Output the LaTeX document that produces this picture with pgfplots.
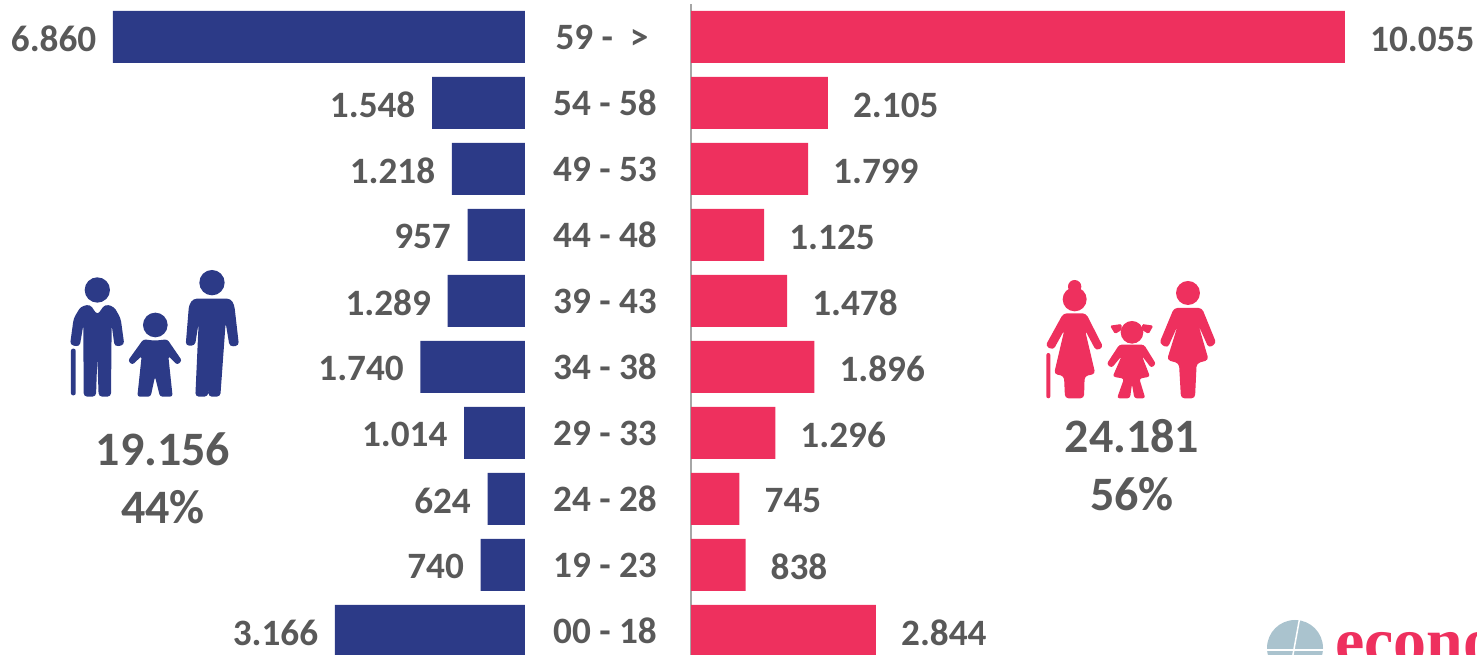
\documentclass[border=0pt]{standalone}
\usepackage{fontspec}
\setmainfont{Carlito}
\newfontfamily\logofont{Liberation Serif}
\usepackage{pgfplots}
\usepackage{pgfplotstable}
\pgfplotsset{compat=1.18}
\definecolor{navy}{HTML}{2C3A87}
\definecolor{rose}{HTML}{EE305E}
\definecolor{txt}{HTML}{595959}
\definecolor{globe}{HTML}{AAC3CE}
\pgfplotstableread{
y v l
9 6860 6.860
8 1548 1.548
7 1218 1.218
6 957 957
5 1289 1.289
4 1740 1.740
3 1014 1.014
2 624 624
1 740 740
0 3166 3.166
}\leftdata
\pgfplotstableread{
y v l
9 10055 10.055
8 2105 2.105
7 1799 1.799
6 1125 1.125
5 1478 1.478
4 1896 1.896
3 1296 1.296
2 745 745
1 838 838
0 2844 2.844
}\rightdata
\newcommand{\lab}{\fontsize{37.2pt}{40pt}\selectfont\bfseries}
\newcommand{\bigtxt}{\fontsize{48pt}{50pt}\selectfont\bfseries}
\begin{document}
\begin{tikzpicture}[x=1pt,y=1pt]
\useasboundingbox (0,0) rectangle (1477,655);
% left axis
\begin{axis}[at={(0pt,0pt)},anchor=south west,scale only axis,width=525pt,height=655pt,
  hide axis,x dir=reverse,xmin=0,xmax=8741,ymin=-0.3636,ymax=9.5606,
  xbar,bar shift=0pt,bar width=52pt,
  point meta=explicit symbolic,
  nodes near coords,
  nodes near coords style={anchor=east,inner sep=0pt,xshift=-16.5pt,yshift=-1.5pt,font=\lab,text=txt}]
\addplot[fill=navy,draw=none] table[x=v,y=y,meta=l]{\leftdata};
\end{axis}
% right axis
\begin{axis}[at={(691pt,0pt)},anchor=south west,scale only axis,width=786pt,height=651pt,
  axis x line=none,axis y line=left,
  y axis line style={-,draw=black!35,line width=2pt},
  xmin=0,xmax=12085,ymin=-0.3636,ymax=9.5,
  ytick={0,...,9},
  yticklabels={00 - 18,19 - 23,24 - 28,29 - 33,34 - 38,39 - 43,44 - 48,49 - 53,54 - 58,59 -\ \ >\hspace*{6pt}},
  major tick length=0pt,
  yticklabel style={anchor=center,inner sep=0pt,xshift=-86pt,font=\lab,text=txt},
  xbar,bar shift=0pt,bar width=52pt,
  point meta=explicit symbolic,
  nodes near coords,
  nodes near coords style={anchor=west,inner sep=0pt,xshift=25pt,yshift=-2pt,font=\lab,text=txt}]
\addplot[fill=rose,draw=none] table[x=v,y=y,meta=l]{\rightdata};
\end{axis}
% totals
\node[font=\bigtxt,text=txt] at (163,206) {19.156};
\node[font=\bigtxt,text=txt] at (163,148) {44\%};
\node[font=\bigtxt,text=txt] at (1132,219) {24.181};
\node[font=\bigtxt,text=txt] at (1132,161) {56\%};
% left icons
\begin{scope}[shift={(40,405)},x=0.3333pt,y=-0.3333pt,fill=navy]
\fill (172,120) circle (38);
\fill[rounded corners=3.5pt] (150,163) -- (172,195) -- (195,163) -- (222,170) -- (242,205) -- (253,285) -- (224,290) -- (215,225) -- (213,440) -- (176,440) -- (172,320) -- (168,440) -- (131,440) -- (130,225) -- (119,290) -- (90,285) -- (101,205) -- (122,170) -- cycle;
\fill[rounded corners=2pt] (93,296) rectangle (107,436);
\fill (346,225) circle (37);
\fill[rounded corners=2.5pt] (310,268) -- (345,272) -- (382,268) -- (426,332) -- (412,345) -- (385,318) -- (398,440) -- (360,440) -- (345,380) -- (332,440) -- (292,440) -- (305,318) -- (277,345) -- (264,332) -- cycle;
\fill (516,98) circle (38);
\fill[rounded corners=3.5pt] (460,146) -- (572,146) -- (583,165) -- (597,287) -- (569,290) -- (557,218) -- (541,440) -- (505,440) -- (516,310) -- (504,440) -- (466,440) -- (476,218) -- (465,287) -- (437,287) -- (447,165) -- cycle;
\end{scope}
% right icons
\begin{scope}[shift={(1020,395)},x=0.3333pt,y=-0.3333pt,fill=rose]
\fill (164,80) circle (20);
\fill (164,118) circle (36);
\fill[rounded corners=3.5pt] (130,160) -- (198,160) -- (250,262) -- (228,272) -- (195,210) -- (226,342) -- (194,348) -- (192,415) -- (135,415) -- (132,348) -- (102,342) -- (133,210) -- (100,270) -- (76,258) -- cycle;
\fill[rounded corners=2pt] (79,279) rectangle (91,415);
\fill (336,217) circle (34);
\fill[rounded corners=1.5pt] (270,197) -- (305,192) -- (305,210) -- (285,222) -- cycle;
\fill[rounded corners=1.5pt] (400,197) -- (366,192) -- (366,210) -- (386,222) -- cycle;
\fill[rounded corners=2.5pt] (298,254) -- (372,254) -- (408,312) -- (394,324) -- (366,288) -- (390,350) -- (358,356) -- (376,415) -- (343,415) -- (336,372) -- (330,415) -- (291,415) -- (312,356) -- (278,350) -- (305,288) -- (275,324) -- (260,312) -- cycle;
\fill (504,99) circle (36);
\fill[rounded corners=3.5pt] (462,144) -- (546,144) -- (589,250) -- (566,264) -- (536,197) -- (566,300) -- (530,310) -- (525,415) -- (483,415) -- (477,310) -- (441,300) -- (473,197) -- (443,264) -- (418,250) -- cycle;
\end{scope}
% logo
\begin{scope}
\clip (1240,0) rectangle (1477,55);
\fill[globe] (1295,7) circle (28);
\draw[white,line width=1.5pt] (1299.5,36) -- (1292,-5);
\draw[white,line width=1.5pt] (1260,5) -- (1330,5);
\node[anchor=base west,inner sep=0pt,text=rose,font=\logofont\bfseries\fontsize{66pt}{70pt}\selectfont] at (1335,-9) {econo};
\end{scope}
\end{tikzpicture}
\end{document}
